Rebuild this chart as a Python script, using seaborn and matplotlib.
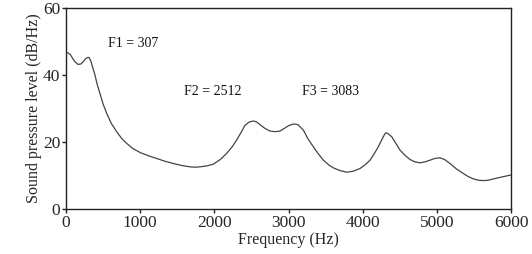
import matplotlib
matplotlib.use("Agg")
import matplotlib.pyplot as plt
import seaborn as sns
import pandas as pd

freq = [0, 30, 60, 90, 120, 162, 200, 240, 270, 300, 314, 335, 360, 391, 420, 458, 500,
        548, 610, 683, 750, 818, 900, 997, 1100, 1222, 1330, 1446, 1560, 1671, 1740, 1806,
        1900, 1985, 2080, 2165, 2240, 2300, 2360, 2412, 2470, 2524, 2570, 2615, 2680, 2749,
        2820, 2884, 2950, 3000, 3050, 3086, 3130, 3198, 3260, 3333, 3400, 3468, 3540, 3603,
        3690, 3783, 3870, 3962, 4030, 4097, 4150, 4209, 4260, 4295, 4313, 4340, 4389, 4440,
        4501, 4570, 4636, 4700, 4771, 4840, 4906, 4970, 5040, 5100, 5175, 5260, 5355, 5420,
        5490, 5560, 5624, 5690, 5759, 5880, 6000]
level = [46.7, 46.6, 46.1, 45.0, 44.0, 43.2, 43.3, 44.2, 45.0, 45.3, 45.2, 44.2, 42.3,
         40.0, 37.3, 34.5, 31.4, 28.6, 25.6, 23.1, 21.1, 19.6, 18.1, 16.9, 16.0, 15.1,
         14.3, 13.6, 13.0, 12.6, 12.5, 12.6, 12.9, 13.4, 14.8, 16.6, 18.6, 20.6, 22.9,
         25.0, 26.0, 26.3, 26.0, 25.2, 24.1, 23.3, 23.1, 23.3, 24.2, 24.9, 25.3, 25.4,
         25.1, 23.6, 21.0, 18.6, 16.5, 14.6, 13.2, 12.3, 11.5, 11.0, 11.3, 12.1, 13.2,
         14.6, 16.4, 18.6, 20.9, 22.4, 22.8, 22.5, 21.6, 19.8, 17.6, 16.0, 14.8, 14.1,
         13.8, 14.1, 14.6, 15.1, 15.3, 14.8, 13.6, 12.0, 10.6, 9.7, 9.0, 8.6, 8.5, 8.6,
         9.0, 9.6, 10.2]

labels = ["F1 = 307", "F2 = 2512", "F3 = 3083"]
label_x = [560, 1590, 3180]
label_y = [49.3, 35.2, 35.2]

sns.set_theme(style="ticks")
plt.rcParams["font.family"] = ["Liberation Serif", "DejaVu Serif"]

df = pd.DataFrame({"Frequency (Hz)": freq, "level": level})
fig, ax = plt.subplots(figsize=(5.32, 2.54), dpi=100)
fig.subplots_adjust(left=0.124, right=0.961, top=0.968, bottom=0.177)
sns.lineplot(data=df, x="Frequency (Hz)", y="level", ax=ax, color="#444444", linewidth=0.9)

for t, x, y in zip(labels, label_x, label_y):
    ax.text(x, y, t, fontsize=10, va="center", ha="left", color="#111111")

ax.set_xlim(0, 6000)
ax.set_ylim(0, 60)
ax.set_xticks([0, 1000, 2000, 3000, 4000, 5000, 6000])
ax.set_yticks([0, 20, 40, 60])
ax.set_xlabel("Frequency (Hz)", fontsize=11.5, labelpad=1)
ax.set_ylabel("Sound pressure level (dB/Hz)", fontsize=11.5, labelpad=1)
ax.tick_params(labelsize=12.5, length=3, width=1, pad=1, color="#222222")
for s in ax.spines.values():
    s.set_linewidth(1)
    s.set_color("#222222")

fig.savefig("out.png", dpi=100)
